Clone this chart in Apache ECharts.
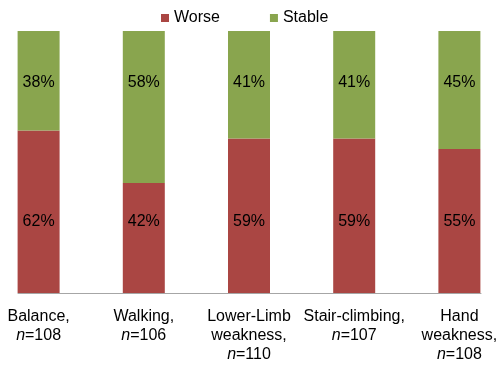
<!DOCTYPE html>
<html>
<head>
<meta charset="utf-8">
<script src="https://cdn.jsdelivr.net/npm/echarts@6/dist/echarts.min.js"></script>
<style>
html,body{margin:0;padding:0;background:#fff;overflow:hidden;width:502px;height:368px;position:relative;}
#main{position:absolute;left:-14px;top:0;width:526px;height:368px;}
</style>
</head>
<body>
<div id="main"></div>
<script>
var categories = ['Balance,', 'Walking,', 'Lower-Limb\nweakness,', 'Stair-climbing,', 'Hand\nweakness,'];
var nValues = [108, 106, 110, 107, 108];
var worse = [62, 42, 59, 59, 55];
var stable = [38, 58, 41, 41, 45];
var seriesNames = ['Worse', 'Stable'];

var chart = echarts.init(document.getElementById('main'), null, {renderer: 'canvas'});
var font = 'Arial, "Liberation Sans", sans-serif';
var labelRich = {
  a: {fontFamily: font, fontSize: 16, color: '#000', lineHeight: 19},
  i: {fontFamily: font, fontSize: 16, color: '#000', fontStyle: 'italic', lineHeight: 19}
};
var option = {
  animation: false,
  backgroundColor: '#fff',
  legend: {
    data: seriesNames,
    left: 170,
    top: 5,
    itemWidth: 8,
    itemHeight: 8,
    itemGap: 50,
    icon: 'rect',
    textStyle: {fontFamily: font, fontSize: 16, color: '#000'}
  },
  grid: [
    {left: 0, right: 0, top: 31, bottom: 75},
    {left: 32, right: 31, top: 31, bottom: 75}
  ],
  xAxis: [
    {
      type: 'category',
      data: categories,
      gridIndex: 0,
      axisLine: {show: false},
      axisTick: {show: false},
      axisLabel: {
        interval: 0,
        margin: 14,
        formatter: function (v, idx) {
          var lines = v.split('\n').map(function (s) { return '{a|' + s + '}'; });
          lines.push('{i|n}{a|=' + nValues[idx] + '}');
          return lines.join('\n');
        },
        rich: labelRich
      }
    },
    {
      type: 'category',
      data: [''],
      gridIndex: 1,
      axisLine: {show: true, lineStyle: {color: '#A6A6A6', width: 1}},
      axisTick: {show: false},
      axisLabel: {show: false}
    }
  ],
  yAxis: [
    {type: 'value', min: 0, max: 100, gridIndex: 0, show: false},
    {type: 'value', min: 0, max: 100, gridIndex: 1, show: false}
  ],
  series: [
    {
      name: seriesNames[0],
      type: 'bar',
      stack: 'total',
      barWidth: 42,
      data: worse,
      itemStyle: {color: '#AA4643'},
      label: {show: true, position: 'insideBottom', distance: 62, formatter: '{c}%', fontFamily: font, fontSize: 16, lineHeight: 18, color: '#000'}
    },
    {
      name: seriesNames[1],
      type: 'bar',
      stack: 'total',
      barWidth: 42,
      data: stable,
      itemStyle: {color: '#89A54E'},
      label: {show: true, position: 'insideTop', distance: 43, formatter: '{c}%', fontFamily: font, fontSize: 16, lineHeight: 18, color: '#000'}
    }
  ]
};
chart.setOption(option);
</script>
</body>
</html>
